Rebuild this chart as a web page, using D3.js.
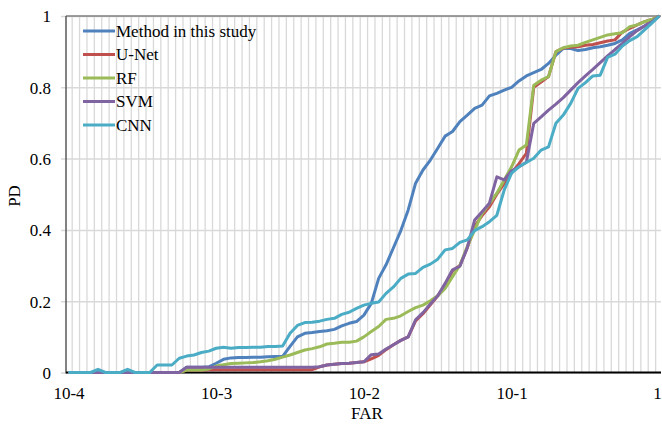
<!DOCTYPE html>
<html>
<head>
<meta charset="utf-8">
<script src="https://cdn.jsdelivr.net/npm/d3@7"></script>
<style>
  body { margin: 0; background: #fff; }
  text { font-family: "Liberation Serif", "Times New Roman", serif; fill: #000; }
</style>
</head>
<body>
<svg class="displayContext" width="662" height="425"></svg>
<script>

// FAR categories: 20 steps per decade, 10-4 .. 1 (index 0..80)
var tickIndex  = [0, 20, 40, 60, 80];
var tickLabels = ["10-4", "10-3", "10-2", "10-1", "1"];
var yTicks     = [0, 0.2, 0.4, 0.6, 0.8, 1];

var seriesNames = ["Method in this study", "U-Net", "RF", "SVM", "CNN"];

var methodData = [
  0, 0, 0, 0, 0, 0, 0, 0, 0, 0,
  0, 0, 0, 0, 0, 0, 0.015, 0.015, 0.015, 0.016,
  0.026, 0.037, 0.041, 0.042, 0.042, 0.043, 0.043, 0.044, 0.045, 0.045,
  0.073, 0.1, 0.11, 0.112, 0.115, 0.117, 0.121, 0.131, 0.138, 0.143,
  0.161, 0.194, 0.264, 0.302, 0.35, 0.398, 0.456, 0.531, 0.568, 0.596,
  0.629, 0.663, 0.676, 0.704, 0.722, 0.741, 0.75, 0.776, 0.783, 0.792,
  0.8, 0.818, 0.832, 0.841, 0.85, 0.867, 0.89, 0.909, 0.909, 0.903,
  0.906, 0.911, 0.914, 0.918, 0.923, 0.933, 0.951, 0.961, 0.972, 0.986,
  1];

var unetData = [
  0, 0, 0, 0, 0, 0, 0, 0, 0, 0,
  0, 0, 0, 0, 0, 0, 0.007, 0.007, 0.007, 0.008,
  0.008, 0.008, 0.008, 0.008, 0.008, 0.008, 0.008, 0.008, 0.008, 0.008,
  0.008, 0.008, 0.008, 0.008, 0.016, 0.021, 0.023, 0.025, 0.026, 0.028,
  0.03, 0.038, 0.048, 0.064, 0.078, 0.09, 0.1, 0.145, 0.165, 0.19,
  0.215, 0.245, 0.285, 0.3, 0.35, 0.41, 0.44, 0.465, 0.5, 0.53,
  0.56, 0.586, 0.615, 0.8, 0.815, 0.83, 0.9, 0.91, 0.912, 0.914,
  0.918, 0.92, 0.925, 0.93, 0.933, 0.955, 0.965, 0.975, 0.984, 0.99,
  1];

var rfData = [
  0, 0, 0, 0, 0, 0, 0, 0, 0, 0,
  0, 0, 0, 0, 0, 0, 0.007, 0.007, 0.007, 0.01,
  0.018, 0.022, 0.025, 0.026, 0.027, 0.028, 0.03, 0.033, 0.037, 0.043,
  0.049, 0.056, 0.063, 0.067, 0.072, 0.08, 0.082, 0.085, 0.085, 0.088,
  0.1, 0.115, 0.129, 0.149, 0.152, 0.159, 0.171, 0.182, 0.189, 0.201,
  0.215, 0.236, 0.269, 0.301, 0.353, 0.4, 0.446, 0.474, 0.503, 0.54,
  0.577, 0.624, 0.638, 0.806, 0.82, 0.83, 0.9, 0.911, 0.916, 0.918,
  0.926, 0.933, 0.94, 0.947, 0.95, 0.953, 0.97, 0.975, 0.984, 0.99,
  1];

var svmData = [
  0, 0, 0, 0, 0, 0, 0, 0, 0, 0,
  0, 0, 0, 0, 0, 0, 0.015, 0.015, 0.015, 0.015,
  0.015, 0.015, 0.015, 0.015, 0.015, 0.015, 0.015, 0.015, 0.015, 0.015,
  0.015, 0.015, 0.015, 0.015, 0.016, 0.021, 0.023, 0.025, 0.026, 0.028,
  0.03, 0.05, 0.052, 0.066, 0.078, 0.09, 0.1, 0.148, 0.168, 0.192,
  0.215, 0.25, 0.288, 0.298, 0.35, 0.428, 0.451, 0.475, 0.549, 0.54,
  0.566, 0.577, 0.59, 0.699, 0.717, 0.736, 0.753, 0.771, 0.792, 0.813,
  0.832, 0.85, 0.869, 0.888, 0.906, 0.923, 0.942, 0.959, 0.972, 0.984,
  1];

var cnnData = [
  0, 0, 0, 0, 0.009, 0, 0, 0, 0.009, 0,
  0, 0, 0.021, 0.021, 0.021, 0.04, 0.046, 0.049, 0.056, 0.06,
  0.068, 0.071, 0.068, 0.07, 0.07, 0.071, 0.071, 0.073, 0.073, 0.074,
  0.11, 0.132, 0.14, 0.141, 0.144, 0.149, 0.152, 0.163, 0.169, 0.18,
  0.189, 0.194, 0.198, 0.222, 0.24, 0.264, 0.276, 0.278, 0.295, 0.304,
  0.318, 0.344, 0.348, 0.365, 0.372, 0.398, 0.409, 0.423, 0.441, 0.512,
  0.559, 0.577, 0.589, 0.601, 0.624, 0.633, 0.699, 0.722, 0.755, 0.797,
  0.813, 0.832, 0.834, 0.884, 0.893, 0.916, 0.931, 0.942, 0.961, 0.98,
  1];

var colours = ["#4F81BD", "#C0504D", "#9BBB59", "#8064A2", "#4BACC6"];

function drawChart(){

  displayContext = d3.select(".displayContext");

  var plotLeft   = 66;
  var plotRight  = 661;
  var plotTop    = 16;
  var plotBottom = 372.5;

  var scaleX = d3.scaleLinear()
                 .domain([0, 80])
                 .range([68.5, 659.3]);

  var scaleY = d3.scaleLinear()
                 .domain([0, 1])
                 .range([plotBottom, plotTop]);

  // vertical grid, one line between each pair of categories
  var gridIdx = d3.range(0, 80).map(function(i){ return i + 0.5; });

  displayContext.append("g")
    .selectAll("line")
    .data(gridIdx)
    .enter().append("line")
      .attr("x1", function(d){ return scaleX(d); })
      .attr("x2", function(d){ return scaleX(d); })
      .attr("y1", plotTop)
      .attr("y2", plotBottom)
      .attr("stroke", "#D9D9D9")
      .attr("stroke-width", 1.3);

  // horizontal grid + y axis
  var y_axis = d3.axisLeft()
                 .scale(scaleY)
                 .tickValues(yTicks)
                 .tickSize(plotRight - plotLeft + 5)
                 .tickFormat(function(d){ return d3.format("~g")(d); });

  var yg = displayContext.append("g")
    .attr("transform", "translate(" + plotRight + ",0)")
    .call(y_axis);

  yg.select(".domain").remove();
  yg.selectAll(".tick line")
    .attr("stroke", "#D9D9D9")
    .attr("stroke-width", 1.5);
  yg.selectAll(".tick text")
    .attr("x", -(plotRight - 51))
    .attr("dy", "0.35em")
    .style("font-size", "17px");

  // top border
  displayContext.append("line")
    .attr("x1", plotLeft).attr("x2", plotRight)
    .attr("y1", plotTop).attr("y2", plotTop)
    .attr("stroke", "#7F7F7F")
    .attr("stroke-width", 1.5);

  // left axis line
  displayContext.append("line")
    .attr("x1", plotLeft).attr("x2", plotLeft)
    .attr("y1", plotTop).attr("y2", plotBottom + 1)
    .attr("stroke", "#595959")
    .attr("stroke-width", 1.5);

  // x axis
  var x_axis = d3.axisBottom()
                 .scale(scaleX)
                 .tickValues(tickIndex)
                 .tickSize(0)
                 .tickFormat(function(d, i){ return tickLabels[i]; });

  var xg = displayContext.append("g")
    .attr("transform", "translate(0," + plotBottom + ")")
    .call(x_axis);

  xg.select(".domain")
    .attr("d", "M" + plotLeft + ",0H" + plotRight)
    .attr("stroke", "#000")
    .attr("stroke-width", 2);
  xg.selectAll(".tick text")
    .attr("y", 26)
    .attr("dy", 0)
    .style("font-size", "17px");
  // last label sits on the right edge, keep it inside the page
  xg.selectAll(".tick text")
    .filter(function(d){ return d === 80; })
    .attr("text-anchor", "end")
    .attr("x", 2);

  var allData = [methodData, unetData, rfData, svmData, cnnData];
  for (var s = 0; s < allData.length; s++) {
    drawLine(allData[s], scaleX, scaleY, colours[s]);
  }

  // legend
  var legend = displayContext.append("g");
  seriesNames.forEach(function(name, i){
    var ly = 31 + i * 23.5;
    legend.append("line")
      .attr("x1", 83).attr("x2", 115)
      .attr("y1", ly).attr("y2", ly)
      .attr("stroke", colours[i])
      .attr("stroke-width", 3);
    legend.append("text")
      .attr("x", 116)
      .attr("y", ly)
      .attr("dy", "0.35em")
      .style("font-size", "17px")
      .text(name);
  });

  // axis titles
  displayContext.append("text")
    .attr("x", 367)
    .attr("y", 419)
    .attr("text-anchor", "middle")
    .style("font-size", "17px")
    .text("FAR");

  displayContext.append("text")
    .attr("transform", "translate(20,196) rotate(-90)")
    .attr("text-anchor", "middle")
    .style("font-size", "17px")
    .text("PD");
}

function drawLine(data, sx, sy, colour){

  var lineFunction = d3.line()
    .x(function(d, i) { return sx(i); })
    .y(function(d) { return sy(d); });

  displayContext.append("path")
    .attr("d", lineFunction(data))
    .attr("stroke", colour)
    .attr("stroke-width", 3)
    .attr("stroke-linejoin", "round")
    .attr("fill", "none");
}

drawChart();
</script>
</body>
</html>
